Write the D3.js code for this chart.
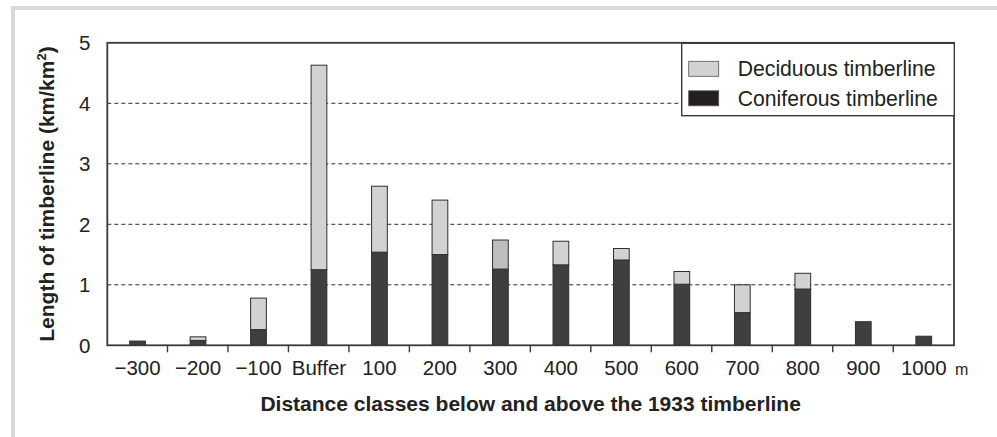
<!DOCTYPE html>
<html>
<head>
<meta charset="utf-8">
<script src="https://cdn.jsdelivr.net/npm/d3@7"></script>
<style>
  body { margin: 0; background: #fff; }
  svg { display: block; font-family: "Liberation Sans", Arial, Helvetica, sans-serif; }
</style>
</head>
<body>
<div id="chart"></div>
<script>
// Distance classes (x axis)
const categories = ["\u2212300", "\u2212200", "\u2212100", "Buffer", "100", "200", "300",
                    "400", "500", "600", "700", "800", "900", "1000"];
// Length of timberline (km/km2)
const coniferous = [0.07, 0.08, 0.26, 1.25, 1.54, 1.50, 1.26, 1.33, 1.41, 1.01, 0.54, 0.93, 0.39, 0.15];
const deciduous  = [0.00, 0.06, 0.52, 3.38, 1.09, 0.90, 0.48, 0.39, 0.19, 0.21, 0.46, 0.26, 0.00, 0.00];
const yTicks = [0, 1, 2, 3, 4, 5];
const seriesNames = ["Coniferous timberline", "Deciduous timberline"];

const width = 997, height = 437;
const margin = {top: 42.8, right: 43, bottom: 91.7, left: 107.3};
const innerW = width - margin.left - margin.right;
const innerH = height - margin.top - margin.bottom;

const colors = {
  "Coniferous timberline": "#3f3f3f",
  "Deciduous timberline": "#d1d2d4"
};

const svg = d3.select("#chart").append("svg")
    .attr("width", width)
    .attr("height", height);

// light grey frame around the figure (open at right / bottom)
svg.append("path")
    .attr("d", `M13,${height} V8 H${width}`)
    .attr("fill", "none")
    .attr("stroke", "#d8d9da")
    .attr("stroke-width", 4);

const chart = svg.append("g")
    .attr("transform", `translate(${margin.left},${margin.top})`);

// scales
const x = d3.scaleBand()
    .domain(categories)
    .range([0, innerW])
    .paddingInner(0.74)
    .paddingOuter(0.37);

const y = d3.scaleLinear()
    .domain([0, 5])
    .range([innerH, 0]);

// dashed gridlines
chart.append("g")
    .selectAll("line")
    .data(yTicks.filter(d => d > 0 && d < 5))
    .join("line")
    .attr("x1", 0)
    .attr("x2", innerW)
    .attr("y1", d => y(d))
    .attr("y2", d => y(d))
    .attr("stroke", "#2e2e2e")
    .attr("stroke-width", 1)
    .attr("stroke-dasharray", "4,3");

// stacked bars
const table = categories.map((c, i) => ({
  cat: c,
  "Coniferous timberline": coniferous[i],
  "Deciduous timberline": deciduous[i]
}));
const stacked = d3.stack().keys(seriesNames)(table);

chart.append("g")
    .selectAll("g")
    .data(stacked)
    .join("g")
    .attr("fill", d => colors[d.key])
    .selectAll("rect")
    .data(d => d.filter(s => s[1] - s[0] > 0))
    .join("rect")
    .attr("x", d => x(d.data.cat))
    .attr("width", x.bandwidth())
    .attr("y", d => y(d[1]))
    .attr("height", d => y(d[0]) - y(d[1]))
    .attr("fill", function(d) {
      // the 300 m deciduous segment is printed a bit darker
      const key = d3.select(this.parentNode).datum().key;
      if (key === "Deciduous timberline" && d.data.cat === "300") return "#bdbec0";
      return null;
    })
    .attr("stroke", "#2f2f2f")
    .attr("stroke-width", 1);

// plot frame
chart.append("rect")
    .attr("x", 0)
    .attr("y", 0)
    .attr("width", innerW)
    .attr("height", innerH)
    .attr("fill", "none")
    .attr("stroke", "#3a3a3a")
    .attr("stroke-width", 1.8);

// x axis: ticks between classes, labels centered on bars
const xAxisG = chart.append("g")
    .attr("transform", `translate(0,${innerH})`);

xAxisG.selectAll("line")
    .data(categories.slice(1))
    .join("line")
    .attr("x1", d => x(d) - x.step() * x.paddingInner() / 2 - 0.3)
    .attr("x2", d => x(d) - x.step() * x.paddingInner() / 2 - 0.3)
    .attr("y1", 0)
    .attr("y2", 7)
    .attr("stroke", "#3a3a3a")
    .attr("stroke-width", 1.4);

xAxisG.selectAll("text")
    .data(categories)
    .join("text")
    .attr("x", d => x(d) + x.bandwidth() / 2)
    .attr("y", 30)
    .attr("text-anchor", "middle")
    .attr("font-size", 20.5)
    .attr("fill", "#222")
    .text(d => d);

// unit after last label
xAxisG.append("text")
    .attr("x", innerW + 1)
    .attr("y", 30)
    .attr("font-size", 16)
    .attr("fill", "#222")
    .text("m");

// y axis labels
chart.append("g")
    .selectAll("text")
    .data(yTicks)
    .join("text")
    .attr("x", -17)
    .attr("y", d => y(d))
    .attr("dy", "0.36em")
    .attr("text-anchor", "end")
    .attr("font-size", 20.5)
    .attr("fill", "#222")
    .text(d => d);

// axis titles
svg.append("text")
    .attr("x", margin.left + innerW / 2)
    .attr("y", 411)
    .attr("text-anchor", "middle")
    .attr("font-size", 21)
    .attr("font-weight", "bold")
    .attr("fill", "#222")
    .text("Distance classes below and above the 1933 timberline");

const yTitle = svg.append("text")
    .attr("text-anchor", "middle")
    .attr("transform", `translate(54,${margin.top + innerH / 2}) rotate(-90)`)
    .attr("font-size", 21)
    .attr("font-weight", "bold")
    .attr("fill", "#222");
yTitle.append("tspan").text("Length of timberline (km/km");
yTitle.append("tspan").attr("font-size", 13).attr("dy", -8).text("2");
yTitle.append("tspan").attr("dy", 8).text(")");

// legend
const legend = svg.append("g")
    .attr("transform", "translate(681.7,43.3)");

legend.append("rect")
    .attr("width", 272.6)
    .attr("height", 72.4)
    .attr("fill", "#fff")
    .attr("stroke", "#3a3a3a")
    .attr("stroke-width", 1.4);

const legendItems = [
  {name: "Deciduous timberline", fill: colors["Deciduous timberline"]},
  {name: "Coniferous timberline", fill: "#231f20"}
];

const item = legend.selectAll("g")
    .data(legendItems)
    .join("g")
    .attr("transform", (d, i) => `translate(0,${18 + i * 29.5})`);

item.append("rect")
    .attr("x", 7)
    .attr("width", 30)
    .attr("height", 15)
    .attr("fill", d => d.fill)
    .attr("stroke", "#555")
    .attr("stroke-width", 0.8);

item.append("text")
    .attr("x", 56)
    .attr("y", 15)
    .attr("font-size", 21.2)
    .attr("fill", "#222")
    .text(d => d.name);
</script>
</body>
</html>
